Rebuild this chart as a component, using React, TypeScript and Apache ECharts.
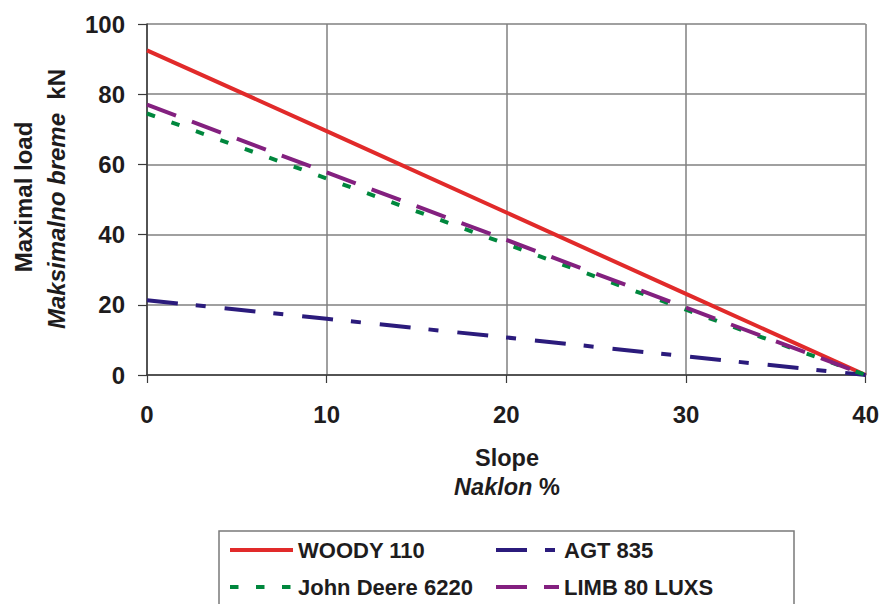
import React, { useEffect, useRef } from "react";
import * as echarts from "echarts";

const slopes = [0, 10, 20, 30, 40];
const woody = [92.5, 69.5, 46.3, 23.1, 0];
const agt = [21.3, 16.0, 10.7, 5.3, 0];
const johnDeere = [74.5, 56.0, 37.3, 18.6, 0];
const limb = [77.0, 57.7, 38.5, 19.2, 0];
const seriesNames = ["WOODY 110", "AGT 835", "John Deere 6220", "LIMB 80 LUXS"];

const FONT = "'Liberation Sans', Arial, Helvetica, sans-serif";
const TXT = "#1e1c1d";

function pairs(ys: number[]) {
  return slopes.map((x, i) => [x, ys[i]]);
}

export default function App() {
  const ref = useRef<HTMLDivElement>(null);
  useEffect(() => {
    if (!ref.current) return;
    const chart = echarts.init(ref.current, undefined, { renderer: "svg" });
    const mk = (name: string, ys: number[], color: string, dash: any) => ({
      name,
      type: "line",
      data: pairs(ys),
      showSymbol: false,
      symbol: "none",
      lineStyle: { color, width: 4, type: dash, cap: "butt" },
      itemStyle: { color },
      emphasis: { disabled: true },
    });
    const legendCommon = {
      orient: "vertical",
      top: 539,
      padding: 0,
      itemGap: 15,
      itemWidth: 63,
      itemHeight: 14,
      selectedMode: false,
      itemStyle: { opacity: 0, borderWidth: 0 },
      lineStyle: { width: 4, cap: "butt" },
      textStyle: { fontSize: 22, fontWeight: "bold", color: TXT, fontFamily: FONT, lineHeight: 22 },
    };
    chart.setOption({
      animation: false,
      backgroundColor: "#ffffff",
      textStyle: { fontFamily: FONT },
      grid: { left: 147, right: 12, top: 24, bottom: 229, containLabel: false },
      xAxis: {
        type: "value",
        min: 0,
        max: 40,
        interval: 10,
        axisLine: { show: true, lineStyle: { color: "#3a3a3a", width: 1.5 } },
        axisTick: { show: true, length: 8, lineStyle: { color: "#3a3a3a", width: 1.2 } },
        splitLine: { show: true, lineStyle: { color: "#808080", width: 1.5 } },
        axisLabel: { fontSize: 24, fontWeight: "bold", color: TXT, margin: 27, fontFamily: FONT },
      },
      yAxis: {
        type: "value",
        min: 0,
        max: 100,
        interval: 20,
        axisLine: { show: true, lineStyle: { color: "#3a3a3a", width: 1.5 } },
        axisTick: { show: true, length: 9, lineStyle: { color: "#3a3a3a", width: 1.2 } },
        splitLine: { show: true, lineStyle: { color: "#808080", width: 1.5 } },
        axisLabel: { fontSize: 24, fontWeight: "bold", color: TXT, margin: 22, fontFamily: FONT },
      },
      legend: [
        { ...legendCommon, data: [seriesNames[0], seriesNames[2]], left: 228 },
        { ...legendCommon, data: [seriesNames[1], seriesNames[3]], left: 494 },
      ],
      graphic: [
        {
          type: "rect",
          shape: { x: 219, y: 531, width: 575, height: 100 },
          style: { fill: "none", stroke: "#7a7a7a", lineWidth: 1.5 },
          z: -1,
        },
        {
          type: "text",
          x: 507,
          y: 458,
          style: { text: "Slope", font: `bold 23.5px ${FONT}`, fill: TXT, align: "center", verticalAlign: "middle" },
        },
        {
          type: "text",
          x: 507,
          y: 487,
          style: {
            text: "{i|Naklon}{b| %}",
            align: "center",
            verticalAlign: "middle",
            rich: {
              i: { fontFamily: FONT, fontSize: 23.5, fontWeight: "bold", fontStyle: "italic", fill: TXT },
              b: { fontFamily: FONT, fontSize: 23.5, fontWeight: "bold", fill: TXT },
            },
          },
        },
        {
          type: "text",
          x: 23,
          y: 197,
          rotation: Math.PI / 2,
          style: { text: "Maximal load", font: `bold 24px ${FONT}`, fill: TXT, align: "center", verticalAlign: "middle" },
        },
        {
          type: "text",
          x: 56,
          y: 199,
          rotation: Math.PI / 2,
          style: {
            text: "{i|Maksimalno breme}{b|  kN}",
            align: "center",
            verticalAlign: "middle",
            rich: {
              i: { fontFamily: FONT, fontSize: 24, fontWeight: "bold", fontStyle: "italic", fill: TXT },
              b: { fontFamily: FONT, fontSize: 24, fontWeight: "bold", fill: TXT },
            },
          },
        },
      ],
      series: [
        mk(seriesNames[0], woody, "#e12a2a", "solid"),
        mk(seriesNames[1], agt, "#2b1b7c", [31, 18, 10, 19]),
        mk(seriesNames[2], johnDeere, "#00873d", [8.5, 17.5]),
        mk(seriesNames[3], limb, "#83207f", [31, 17]),
      ],
    });
    return () => chart.dispose();
  }, []);
  return <div ref={ref} style={{ width: 882, height: 604, position: "absolute", left: 0, top: 0 }} />;
}
